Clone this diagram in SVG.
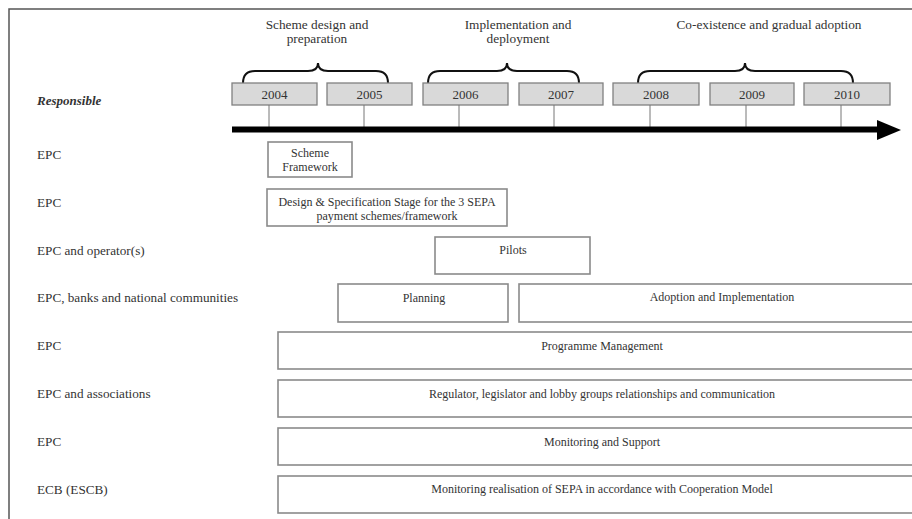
<svg xmlns="http://www.w3.org/2000/svg" width="912" height="519" viewBox="0 0 912 519">
<style>
text{font-family:"Liberation Serif","Times New Roman",serif;fill:#333}
.yr{fill:#d9d9d9;stroke:#808080;stroke-width:1.3}
.yt{font-size:13px;text-anchor:middle}
.hd{font-size:13.3px;text-anchor:middle}
.rl{font-size:13.2px}
.bx{fill:#fff;stroke:#8a8a8a;stroke-width:1.6}
.bt{font-size:12px;text-anchor:middle}
.br{fill:none;stroke:#111;stroke-width:2}
.tk{stroke:#777;stroke-width:1}
</style>
<rect x="0" y="0" width="912" height="519" fill="#fff"/>
<path d="M9,530 V9 H930" fill="none" stroke="#555" stroke-width="1.5"/>

<g id="phases">
<path class="br" d="M243,83 Q243,71 255,71 L308,71 Q318,71 318,63 Q318,71 328,71 L376,71 Q388,71 388,83"/>
<path class="br" d="M428,83 Q428,71 440,71 L497,71 Q507,71 507,63 Q507,71 517,71 L567,71 Q579,71 579,83"/>
<path class="br" d="M638,83 Q638,71 650,71 L735,71 Q745,71 745,63 Q745,71 755,71 L841,71 Q853,71 853,83"/>
<text class="hd" x="317" y="29">Scheme design and</text>
<text class="hd" x="317" y="43">preparation</text>
<text class="hd" x="518" y="29">Implementation and</text>
<text class="hd" x="518" y="43">deployment</text>
<text class="hd" x="769" y="29">Co-existence and gradual adoption</text>
</g>

<g id="years">
<g id="y2004"><rect class="yr" x="232" y="83" width="85" height="22"/><text class="yt" x="274.5" y="99">2004</text></g>
<g id="y2005"><rect class="yr" x="327" y="83" width="85" height="22"/><text class="yt" x="369.5" y="99">2005</text></g>
<g id="y2006"><rect class="yr" x="423" y="83" width="85" height="22"/><text class="yt" x="465.5" y="99">2006</text></g>
<g id="y2007"><rect class="yr" x="519" y="83" width="84" height="22"/><text class="yt" x="561" y="99">2007</text></g>
<g id="y2008"><rect class="yr" x="613" y="83" width="86" height="22"/><text class="yt" x="656" y="99">2008</text></g>
<g id="y2009"><rect class="yr" x="710" y="83" width="84" height="22"/><text class="yt" x="752" y="99">2009</text></g>
<g id="y2010"><rect class="yr" x="804" y="83" width="86" height="22"/><text class="yt" x="847" y="99">2010</text></g>
</g>

<g id="connectors">
<line class="tk" x1="269" y1="105" x2="269" y2="128"/>
<line class="tk" x1="364" y1="105" x2="364" y2="128"/>
<line class="tk" x1="459" y1="105" x2="459" y2="128"/>
<line class="tk" x1="554" y1="105" x2="554" y2="128"/>
<line class="tk" x1="650" y1="105" x2="650" y2="128"/>
<line class="tk" x1="746" y1="105" x2="746" y2="128"/>
<line class="tk" x1="841" y1="105" x2="841" y2="128"/>
<line x1="232" y1="129.5" x2="880" y2="129.5" stroke="#000" stroke-width="6"/>
<polygon points="877,120 901,130 877,140" fill="#000"/>
</g>

<g id="labels">
<text x="37" y="105" font-size="13" font-weight="bold" font-style="italic">Responsible</text>
<text class="rl" x="37" y="159">EPC</text>
<text class="rl" x="37" y="207">EPC</text>
<text class="rl" x="37" y="255">EPC and operator(s)</text>
<text class="rl" x="37" y="302">EPC, banks and national communities</text>
<text class="rl" x="37" y="350">EPC</text>
<text class="rl" x="37" y="398">EPC and associations</text>
<text class="rl" x="37" y="446">EPC</text>
<text class="rl" x="37" y="494">ECB (ESCB)</text>
</g>

<g id="scheme-framework"><rect class="bx" x="268" y="142" width="84" height="35"/><text class="bt" x="310" y="157">Scheme</text><text class="bt" x="310" y="171">Framework</text></g>
<g id="design-spec"><rect class="bx" x="267" y="189" width="240" height="37"/><text class="bt" x="387" y="206">Design &amp; Specification Stage for the 3 SEPA</text><text class="bt" x="387" y="220">payment schemes/framework</text></g>
<g id="pilots"><rect class="bx" x="435" y="237" width="155" height="37"/><text class="bt" x="513" y="254">Pilots</text></g>
<g id="planning"><rect class="bx" x="338" y="284" width="170" height="38"/><text class="bt" x="424" y="302">Planning</text></g>
<g id="adoption"><rect class="bx" x="519" y="284" width="420" height="38"/><text class="bt" x="722" y="301">Adoption and Implementation</text></g>
<g id="programme"><rect class="bx" x="278" y="332" width="660" height="37"/><text class="bt" x="602" y="350">Programme Management</text></g>
<g id="regulator"><rect class="bx" x="278" y="380" width="660" height="37"/><text class="bt" x="602" y="398">Regulator, legislator and lobby groups relationships and communication</text></g>
<g id="monitoring"><rect class="bx" x="278" y="428" width="660" height="37"/><text class="bt" x="602" y="446">Monitoring and Support</text></g>
<g id="ecb-monitoring"><rect class="bx" x="278" y="476" width="660" height="37"/><text class="bt" x="602" y="493">Monitoring realisation of SEPA in accordance with Cooperation Model</text></g>
</svg>
